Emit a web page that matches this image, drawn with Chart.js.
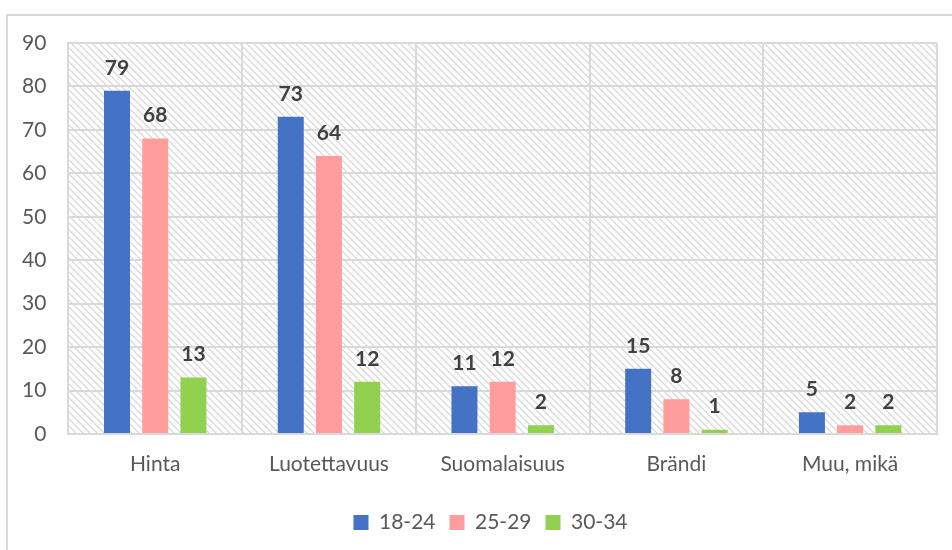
<!DOCTYPE html>
<html>
<head>
<meta charset="utf-8">
<script src="https://cdn.jsdelivr.net/npm/chart.js@4/dist/chart.umd.min.js"></script>
<style>
  html, body { margin: 0; padding: 0; background: #fff; }
  #wrap { width: 952px; height: 550px; }
</style>
</head>
<body>
<div id="wrap"><canvas id="chart" width="952" height="550"></canvas></div>
<script>
const categories = ['Hinta', 'Luotettavuus', 'Suomalaisuus', 'Brändi', 'Muu, mikä'];
const ages18to24 = [79, 73, 11, 15, 5];
const ages25to29 = [68, 64, 12, 8, 2];
const ages30to34 = [13, 12, 2, 1, 2];
const yTicks = [0, 10, 20, 30, 40, 50, 60, 70, 80, 90];

const gridColor = '#d9d9d9';
const textColor = '#595959';
const fontSize = 21;

// diagonal hatch used as the plot background
function makeHatch() {
    const c = document.createElement('canvas');
    c.width = 7; c.height = 7;
    const g = c.getContext('2d');
    g.strokeStyle = '#d4d4d4';
    g.lineWidth = 1.2;
    g.beginPath();
    g.moveTo(-1, -1); g.lineTo(8, 8);
    g.moveTo(-1, 6); g.lineTo(1, 8);
    g.moveTo(6, -1); g.lineTo(8, 1);
    g.stroke();
    return g.createPattern(c, 'repeat');
}

const backdrop = {
    id: 'backdrop',
    beforeDraw(chart) {
        const ctx = chart.ctx;
        const a = chart.chartArea;
        ctx.save();
        ctx.strokeStyle = gridColor;
        ctx.lineWidth = 2;
        ctx.strokeRect(7, 15, 960, 560);
        ctx.fillStyle = makeHatch();
        ctx.fillRect(a.left, a.top, a.right - a.left, a.bottom - a.top);
        ctx.restore();
    }
};

// legend is centred on the outer frame, not on the plot
const legendShift = {
    id: 'legendShift',
    afterLayout(chart) {
        chart.legend.left += 22;
        chart.legend.right += 22;
    }
};

const valueLabels = {
    id: 'valueLabels',
    afterDatasetsDraw(chart) {
        const ctx = chart.ctx;
        ctx.save();
        ctx.font = 'bold ' + fontSize + 'px Lato';
        ctx.fillStyle = '#404040';
        ctx.textAlign = 'center';
        ctx.textBaseline = 'middle';
        chart.data.datasets.forEach((ds, i) => {
            chart.getDatasetMeta(i).data.forEach((bar, j) => {
                ctx.fillText(ds.data[j], bar.x, bar.y - 23);
            });
        });
        ctx.restore();
    }
};

const data = {
    labels: categories,
    datasets: [
        { label: '18-24', data: ages18to24, backgroundColor: '#4472C4' },
        { label: '25-29', data: ages25to29, backgroundColor: '#FF9D9D' },
        { label: '30-34', data: ages30to34, backgroundColor: '#92D050' }
    ]
};

const config = {
    type: 'bar',
    data: data,
    plugins: [backdrop, legendShift, valueLabels],
    options: {
        responsive: false,
        animation: false,
        categoryPercentage: 0.66,
        barPercentage: 0.68,
        layout: { padding: { left: 0, top: 43, right: 15, bottom: 7 } },
        scales: {
            x: {
                grid: { color: gridColor, lineWidth: 2, drawTicks: false },
                border: { color: gridColor, width: 2 },
                ticks: { color: textColor, font: { family: 'Lato', size: fontSize }, padding: 18 },
                afterFit(axis) { axis.height = 64; }
            },
            y: {
                min: 0,
                max: 90,
                afterBuildTicks(axis) { axis.ticks = yTicks.map(v => ({ value: v })); },
                grid: { color: gridColor, lineWidth: 2, drawTicks: false },
                border: { color: gridColor, width: 2 },
                ticks: { color: textColor, font: { family: 'Lato', size: fontSize }, padding: 22 }
            }
        },
        plugins: {
            legend: {
                position: 'bottom',
                labels: {
                    color: textColor,
                    font: { family: 'Lato', size: fontSize },
                    boxWidth: 15,
                    boxHeight: 15,
                    padding: 14
                }
            },
            tooltip: { enabled: false }
        }
    }
};

new Chart(document.getElementById('chart'), config);
</script>
</body>
</html>
